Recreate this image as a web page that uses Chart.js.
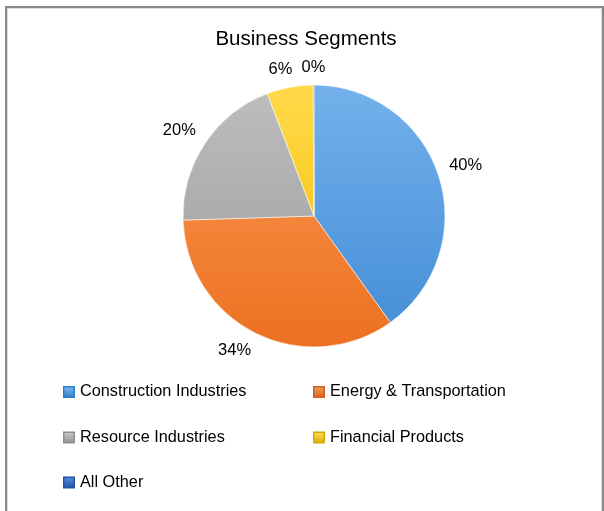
<!DOCTYPE html>
<html><head><meta charset="utf-8">
<script src="https://cdn.jsdelivr.net/npm/chart.js@4.4.1/dist/chart.umd.min.js"></script>
<style>html,body{margin:0;padding:0;background:#fff;}</style>
</head><body>
<canvas id="c" width="604" height="511"></canvas>
<script>
const chartTitle = 'Business Segments';
const categories = ['Construction Industries', 'Energy & Transportation', 'Resource Industries', 'Financial Products', 'All Other'];
const shares = [40.1, 34.4, 19.7, 5.7, 0.1];

const lightColors = ['#74B1EC', '#FB9A55', '#BEBEBE', '#FFDA4A', '#5585D6'];
const darkColors  = ['#428CD6', '#EC7020', '#9A9A9A', '#F4BB00', '#2C5DB4'];
const legendLight = ['#7DBBEE', '#F2A064', '#D0D0D0', '#FFE060', '#5C8EDC'];
const legendDark  = ['#2F7CC8', '#D5601E', '#8E8E8E', '#D9A800', '#2350A8'];

const FONT = '"Liberation Sans", Arial, sans-serif';
const PIE_R = 131;

const framePlugin = {
  id: 'frame',
  beforeDraw(chart) {
    const ctx = chart.ctx;
    ctx.save();
    ctx.fillStyle = '#fff';
    ctx.fillRect(0, 0, chart.width, chart.height);
    ctx.strokeStyle = '#8a8a8a';
    ctx.lineWidth = 2;
    ctx.strokeRect(6, 7, 597, 540);
    ctx.strokeStyle = '#dcdcdc';
    ctx.lineWidth = 1;
    ctx.strokeRect(7.5, 8.5, 594, 540);
    ctx.restore();
  }
};

const labelPlugin = {
  id: 'sliceLabels',
  afterDatasetsDraw(chart) {
    const ctx = chart.ctx;
    const meta = chart.getDatasetMeta(0);
    const total = shares.reduce((a, b) => a + b, 0);
    ctx.save();
    ctx.font = '16.5px ' + FONT;
    ctx.fillStyle = '#000';
    ctx.textAlign = 'center';
    ctx.textBaseline = 'middle';
    const clamp = v => Math.max(-1, Math.min(1, v));
    meta.data.forEach((arc, i) => {
      const p = arc.getProps(['x', 'y', 'startAngle', 'endAngle', 'outerRadius'], true);
      const mid = (p.startAngle + p.endAngle) / 2;
      const cx = Math.cos(mid), sy = Math.sin(mid);
      const txt = Math.round(shares[i] / total * 100) + '%';
      const hw = ctx.measureText(txt).width / 2, hh = 7, gap = 11;
      const lx = p.x + (p.outerRadius + gap) * cx + hw * clamp(cx / 0.3);
      const ly = p.y + (p.outerRadius + gap) * sy + hh * clamp(sy / 0.3);
      ctx.fillText(txt, lx, ly);
    });
    ctx.restore();
  }
};

const titleLegendPlugin = {
  id: 'titleLegend',
  afterDraw(chart) {
    const ctx = chart.ctx;
    ctx.save();
    ctx.fillStyle = '#000';
    ctx.textBaseline = 'middle';
    ctx.textAlign = 'center';
    ctx.font = '20.5px ' + FONT;
    ctx.fillText(chartTitle, 306, 39);
    const colX = [63, 313];
    const rowY = [392, 437.5, 482.5];
    ctx.font = '16.3px ' + FONT;
    ctx.textAlign = 'left';
    categories.forEach((name, i) => {
      const bx = colX[i % 2], by = rowY[Math.floor(i / 2)];
      const g = ctx.createLinearGradient(bx, by - 6, bx, by + 6);
      g.addColorStop(0, legendLight[i]);
      g.addColorStop(1, legendDark[i]);
      ctx.fillStyle = legendDark[i];
      ctx.fillRect(bx, by - 6, 12, 12);
      ctx.fillStyle = g;
      ctx.fillRect(bx + 1.5, by - 4.5, 9, 9);
      ctx.fillStyle = '#000';
      ctx.fillText(name, bx + 17, by);
    });
    ctx.restore();
  }
};

new Chart(document.getElementById('c'), {
  type: 'pie',
  data: {
    labels: categories,
    datasets: [{
      data: shares,
      radius: PIE_R,
      backgroundColor: (ctx) => {
        const ch = ctx.chart, a = ch.chartArea;
        if (!a) return darkColors[ctx.dataIndex];
        const cy = (a.top + a.bottom) / 2;
        const g = ch.ctx.createLinearGradient(0, cy - PIE_R, 0, cy + PIE_R);
        g.addColorStop(0, lightColors[ctx.dataIndex]);
        g.addColorStop(1, darkColors[ctx.dataIndex]);
        return g;
      },
      borderColor: 'rgba(255,255,255,0.55)',
      borderWidth: 1
    }]
  },
  options: {
    responsive: false,
    animation: false,
    layout: { padding: { left: 150, right: 126, top: 100, bottom: 179 } },
    plugins: { legend: { display: false }, title: { display: false }, tooltip: { enabled: false } }
  },
  plugins: [framePlugin, labelPlugin, titleLegendPlugin]
});
</script>
</body></html>
